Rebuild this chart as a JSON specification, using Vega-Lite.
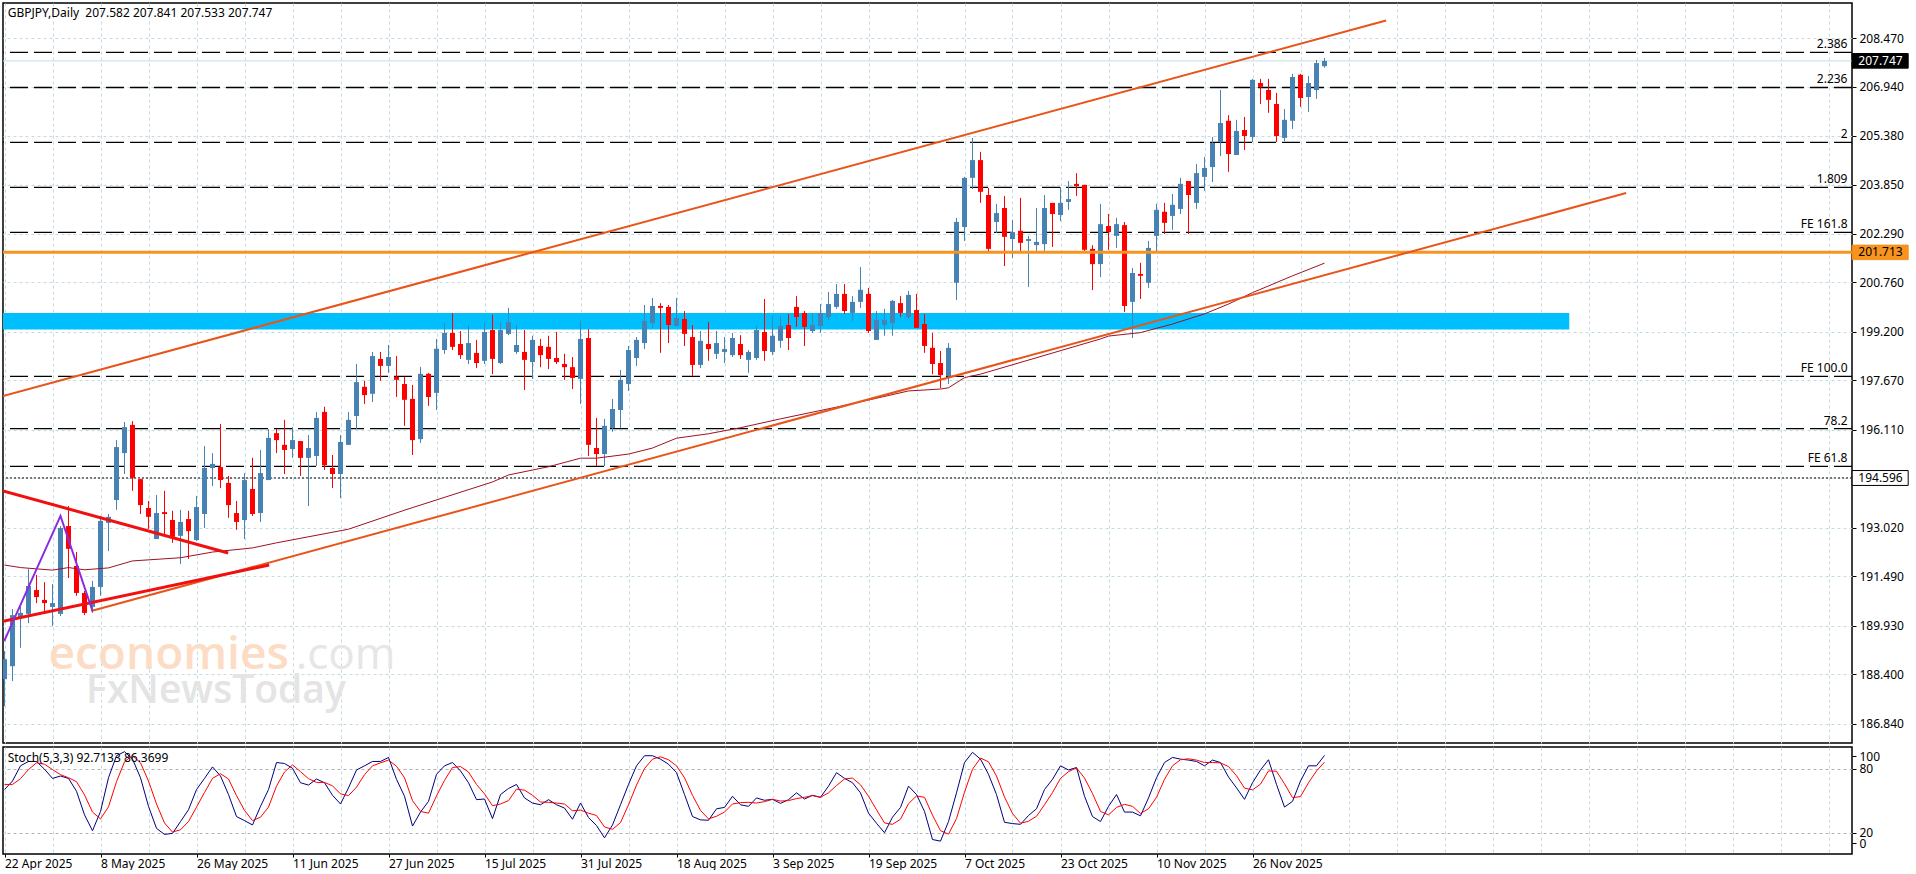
{
"$schema":"https://vega.github.io/schema/vega-lite/v6.json",
"background":"#FFFFFF",
"padding":{"left":1,"top":2,"right":0,"bottom":0},
"spacing":2,
"config":{"view":{"stroke":"#000000","strokeWidth":1.5},"text":{"font":"Noto Sans","fontSize":12,"color":"#000000"},"axis":{"labelFont":"Noto Sans","labelFontSize":12,"labelColor":"#000000","tickColor":"#000000","gridColor":"#C3DCE3","gridDash":[3,3],"domain":false,"title":null}},
"datasets":{
"candles":[
{"i":0,"o":188.25,"h":189.14,"l":187.40,"c":188.88},{"i":1,"o":188.66,"h":190.46,"l":188.19,"c":190.27},{"i":2,"o":190.21,"h":190.53,"l":189.24,"c":190.34},{"i":3,"o":190.31,"h":191.72,"l":190.02,"c":191.19},{"i":4,"o":191.06,"h":191.54,"l":190.65,"c":190.84},{"i":5,"o":190.75,"h":191.31,"l":190.40,"c":190.65},{"i":6,"o":190.53,"h":191.25,"l":189.93,"c":190.65},{"i":7,"o":190.31,"h":193.08,"l":190.24,"c":193.02},{"i":8,"o":193.08,"h":193.71,"l":191.44,"c":192.36},{"i":9,"o":191.82,"h":192.26,"l":190.88,"c":190.97},
{"i":10,"o":190.97,"h":191.03,"l":190.27,"c":190.34},{"i":11,"o":190.53,"h":191.35,"l":190.34,"c":191.16},{"i":12,"o":191.16,"h":193.40,"l":190.88,"c":193.24},{"i":13,"o":193.18,"h":193.46,"l":192.29,"c":193.37},{"i":14,"o":193.90,"h":195.79,"l":193.59,"c":195.57},{"i":15,"o":195.38,"h":196.36,"l":194.72,"c":196.20},{"i":16,"o":196.27,"h":196.39,"l":194.19,"c":194.60},{"i":17,"o":194.56,"h":194.56,"l":193.46,"c":193.74},{"i":18,"o":193.65,"h":193.87,"l":192.99,"c":193.37},{"i":19,"o":192.67,"h":194.06,"l":192.67,"c":193.49},
{"i":20,"o":193.52,"h":194.19,"l":192.83,"c":193.46},{"i":21,"o":193.27,"h":193.56,"l":192.55,"c":192.74},{"i":22,"o":192.77,"h":193.59,"l":191.88,"c":193.21},{"i":23,"o":193.30,"h":193.56,"l":192.04,"c":192.92},{"i":24,"o":192.64,"h":194.03,"l":192.61,"c":193.68},{"i":25,"o":193.46,"h":195.60,"l":193.02,"c":194.91},{"i":26,"o":194.91,"h":195.38,"l":194.34,"c":195.04},{"i":27,"o":194.94,"h":196.30,"l":194.28,"c":194.53},{"i":28,"o":194.44,"h":194.66,"l":193.34,"c":193.74},{"i":29,"o":193.49,"h":193.87,"l":192.96,"c":193.21},
{"i":30,"o":193.27,"h":194.75,"l":192.67,"c":194.53},{"i":31,"o":194.25,"h":195.23,"l":193.40,"c":193.46},{"i":32,"o":193.49,"h":195.48,"l":193.21,"c":194.75},{"i":33,"o":194.53,"h":196.14,"l":194.53,"c":195.86},{"i":34,"o":196.01,"h":196.14,"l":195.38,"c":195.79},{"i":35,"o":195.64,"h":196.43,"l":194.72,"c":195.48},{"i":36,"o":195.51,"h":196.20,"l":195.23,"c":195.79},{"i":37,"o":195.76,"h":195.76,"l":194.66,"c":195.23},{"i":38,"o":195.23,"h":195.95,"l":193.71,"c":195.54},{"i":39,"o":195.29,"h":196.68,"l":194.97,"c":196.49},
{"i":40,"o":196.68,"h":196.84,"l":194.85,"c":195.00},{"i":41,"o":194.91,"h":195.32,"l":194.28,"c":194.72},{"i":42,"o":194.72,"h":195.95,"l":193.96,"c":195.73},{"i":43,"o":195.64,"h":196.68,"l":195.64,"c":196.43},{"i":44,"o":196.55,"h":198.19,"l":196.14,"c":197.62},{"i":45,"o":197.47,"h":197.66,"l":196.93,"c":197.21},{"i":46,"o":197.25,"h":198.57,"l":196.99,"c":198.44},{"i":47,"o":198.35,"h":198.57,"l":197.66,"c":198.13},{"i":48,"o":198.13,"h":198.79,"l":197.91,"c":198.41},{"i":49,"o":197.78,"h":198.44,"l":197.15,"c":197.69},
{"i":50,"o":197.56,"h":197.78,"l":196.24,"c":197.06},{"i":51,"o":197.09,"h":197.53,"l":195.32,"c":195.79},{"i":52,"o":195.82,"h":198.10,"l":195.70,"c":197.88},{"i":53,"o":197.88,"h":197.91,"l":196.87,"c":197.15},{"i":54,"o":197.28,"h":198.98,"l":196.74,"c":198.67},{"i":55,"o":198.63,"h":199.48,"l":198.51,"c":199.17},{"i":56,"o":199.17,"h":199.80,"l":198.63,"c":198.73},{"i":57,"o":198.82,"h":199.23,"l":198.35,"c":198.47},{"i":58,"o":198.32,"h":199.42,"l":198.19,"c":198.85},{"i":59,"o":198.54,"h":198.95,"l":198.06,"c":198.22},
{"i":60,"o":198.29,"h":199.51,"l":198.19,"c":199.20},{"i":61,"o":199.26,"h":199.74,"l":197.87,"c":198.35},{"i":62,"o":198.22,"h":199.51,"l":198.19,"c":199.26},{"i":63,"o":199.14,"h":199.96,"l":199.10,"c":199.51},{"i":64,"o":198.57,"h":199.42,"l":198.51,"c":198.79},{"i":65,"o":198.57,"h":199.26,"l":197.37,"c":198.32},{"i":66,"o":198.25,"h":199.08,"l":197.72,"c":198.95},{"i":67,"o":198.76,"h":198.98,"l":198.09,"c":198.47},{"i":68,"o":198.73,"h":199.08,"l":198.03,"c":198.35},{"i":69,"o":198.38,"h":199.20,"l":198.19,"c":198.25},
{"i":70,"o":198.19,"h":198.51,"l":197.69,"c":198.09},{"i":71,"o":198.09,"h":198.41,"l":197.40,"c":197.75},{"i":72,"o":197.72,"h":199.55,"l":196.93,"c":198.98},{"i":73,"o":199.01,"h":199.29,"l":195.29,"c":195.64},{"i":74,"o":195.54,"h":196.49,"l":194.97,"c":195.35},{"i":75,"o":195.35,"h":196.46,"l":194.97,"c":196.24},{"i":76,"o":196.17,"h":197.09,"l":196.05,"c":196.77},{"i":77,"o":196.74,"h":198.00,"l":196.17,"c":197.69},{"i":78,"o":197.56,"h":198.76,"l":197.34,"c":198.63},{"i":79,"o":198.38,"h":199.04,"l":198.13,"c":198.95},
{"i":80,"o":198.85,"h":200.05,"l":198.66,"c":199.55},{"i":81,"o":199.48,"h":200.27,"l":199.33,"c":200.02},{"i":82,"o":200.02,"h":200.11,"l":198.54,"c":199.96},{"i":83,"o":199.99,"h":200.05,"l":198.85,"c":199.42},{"i":84,"o":199.39,"h":200.27,"l":199.39,"c":199.64},{"i":85,"o":199.61,"h":199.86,"l":198.76,"c":199.14},{"i":86,"o":199.04,"h":199.42,"l":197.81,"c":198.16},{"i":87,"o":198.16,"h":199.23,"l":198.06,"c":198.92},{"i":88,"o":198.82,"h":199.51,"l":198.29,"c":198.66},{"i":89,"o":198.51,"h":199.23,"l":198.35,"c":198.85},
{"i":90,"o":198.57,"h":199.04,"l":198.22,"c":198.66},{"i":91,"o":198.47,"h":199.17,"l":198.41,"c":199.01},{"i":92,"o":198.82,"h":199.10,"l":198.35,"c":198.47},{"i":93,"o":198.32,"h":198.63,"l":197.91,"c":198.57},{"i":94,"o":198.38,"h":199.39,"l":198.32,"c":199.26},{"i":95,"o":199.20,"h":200.24,"l":198.29,"c":198.60},{"i":96,"o":198.57,"h":199.71,"l":198.47,"c":199.08},{"i":97,"o":198.92,"h":199.71,"l":198.70,"c":199.39},{"i":98,"o":199.42,"h":199.77,"l":198.63,"c":199.01},{"i":99,"o":199.99,"h":200.33,"l":199.36,"c":199.67},
{"i":100,"o":199.80,"h":199.86,"l":198.76,"c":199.36},{"i":101,"o":199.23,"h":199.80,"l":199.17,"c":199.42},{"i":102,"o":199.39,"h":200.08,"l":199.17,"c":199.80},{"i":103,"o":199.67,"h":200.46,"l":199.58,"c":200.08},{"i":104,"o":199.99,"h":200.71,"l":199.93,"c":200.40},{"i":105,"o":200.40,"h":200.71,"l":199.77,"c":199.86},{"i":106,"o":199.80,"h":200.33,"l":199.55,"c":200.15},{"i":107,"o":200.15,"h":201.25,"l":199.96,"c":200.53},{"i":108,"o":200.40,"h":200.59,"l":199.17,"c":199.23},{"i":109,"o":198.95,"h":199.86,"l":198.95,"c":199.58},
{"i":110,"o":199.42,"h":199.93,"l":199.08,"c":199.58},{"i":111,"o":199.48,"h":200.21,"l":199.08,"c":200.18},{"i":112,"o":200.11,"h":200.33,"l":199.67,"c":199.80},{"i":113,"o":199.67,"h":200.49,"l":199.61,"c":200.37},{"i":114,"o":199.89,"h":200.40,"l":199.33,"c":199.33},{"i":115,"o":199.45,"h":199.77,"l":198.54,"c":198.76},{"i":116,"o":198.70,"h":199.17,"l":197.87,"c":198.19},{"i":117,"o":198.22,"h":198.60,"l":197.43,"c":197.84},{"i":118,"o":197.81,"h":198.85,"l":197.56,"c":198.70},{"i":119,"o":200.75,"h":202.80,"l":200.21,"c":202.67},
{"i":120,"o":202.51,"h":204.09,"l":202.07,"c":204.06},{"i":121,"o":204.06,"h":205.32,"l":203.71,"c":204.62},{"i":122,"o":204.62,"h":204.88,"l":203.27,"c":203.62},{"i":123,"o":203.52,"h":203.74,"l":201.69,"c":201.82},{"i":124,"o":202.67,"h":203.24,"l":202.32,"c":202.95},{"i":125,"o":203.11,"h":203.49,"l":201.28,"c":202.20},{"i":126,"o":202.13,"h":202.73,"l":201.53,"c":202.35},{"i":127,"o":202.39,"h":203.43,"l":201.69,"c":202.01},{"i":128,"o":202.07,"h":202.23,"l":200.62,"c":202.13},{"i":129,"o":201.94,"h":203.11,"l":201.69,"c":202.04},
{"i":130,"o":201.97,"h":203.52,"l":201.76,"c":203.11},{"i":131,"o":203.27,"h":203.27,"l":201.88,"c":202.92},{"i":132,"o":202.89,"h":203.77,"l":202.70,"c":203.27},{"i":133,"o":203.30,"h":203.96,"l":203.05,"c":203.39},{"i":134,"o":203.87,"h":204.21,"l":203.49,"c":203.80},{"i":135,"o":203.84,"h":203.84,"l":201.69,"c":201.79},{"i":136,"o":201.82,"h":201.94,"l":200.52,"c":201.34},{"i":137,"o":201.34,"h":203.24,"l":200.93,"c":202.60},{"i":138,"o":202.54,"h":202.92,"l":201.79,"c":202.35},{"i":139,"o":202.23,"h":202.80,"l":201.85,"c":202.60},
{"i":140,"o":202.57,"h":202.67,"l":199.83,"c":200.02},{"i":141,"o":200.15,"h":201.22,"l":199.01,"c":201.06},{"i":142,"o":201.03,"h":201.38,"l":200.24,"c":200.97},{"i":143,"o":200.75,"h":202.07,"l":200.59,"c":201.85},{"i":144,"o":202.23,"h":203.24,"l":201.69,"c":203.05},{"i":145,"o":202.99,"h":203.27,"l":202.29,"c":202.64},{"i":146,"o":202.86,"h":203.55,"l":202.42,"c":203.21},{"i":147,"o":203.08,"h":204.06,"l":202.92,"c":203.87},{"i":148,"o":203.96,"h":203.96,"l":202.29,"c":203.52},{"i":149,"o":203.27,"h":204.50,"l":203.08,"c":204.21},
{"i":150,"o":204.09,"h":204.72,"l":203.65,"c":204.37},{"i":151,"o":204.40,"h":205.35,"l":203.93,"c":205.16},{"i":152,"o":205.19,"h":206.83,"l":204.75,"c":205.79},{"i":153,"o":205.86,"h":206.04,"l":204.25,"c":204.81},{"i":154,"o":204.78,"h":205.89,"l":204.78,"c":205.54},{"i":155,"o":205.57,"h":205.98,"l":204.94,"c":205.38},{"i":156,"o":205.35,"h":207.18,"l":205.19,"c":207.15},{"i":157,"o":207.05,"h":207.18,"l":206.39,"c":206.93},{"i":158,"o":206.83,"h":207.18,"l":206.11,"c":206.52},{"i":159,"o":206.39,"h":206.74,"l":205.19,"c":205.38},
{"i":160,"o":205.32,"h":206.23,"l":205.22,"c":205.89},{"i":161,"o":205.86,"h":207.34,"l":205.60,"c":207.24},{"i":162,"o":207.31,"h":207.34,"l":206.30,"c":206.58},{"i":163,"o":206.61,"h":207.27,"l":206.14,"c":207.05},{"i":164,"o":206.83,"h":207.78,"l":206.55,"c":207.68},{"i":165,"o":207.582,"h":207.841,"l":207.533,"c":207.747}
],
"ma":[
{"i":0,"p":191.85},{"i":2,"p":191.77},{"i":6,"p":191.69},{"i":8,"p":191.77},{"i":10,"p":191.70},{"i":13,"p":191.76},{"i":16,"p":191.98},{"i":22,"p":192.08},{"i":26,"p":192.26},{"i":31,"p":192.39},{"i":34,"p":192.55},{"i":43,"p":192.98},{"i":50,"p":193.58},{"i":61,"p":194.47},{"i":63,"p":194.69},{"i":68,"p":194.95},{"i":72,"p":195.22},{"i":74,"p":195.22},{"i":78,"p":195.35},{"i":81,"p":195.54},{"i":84,"p":195.85},{"i":88,"p":195.99},{"i":92,"p":196.18},{"i":97,"p":196.46},{"i":104,"p":196.83},{"i":109,"p":197.11},{"i":113,"p":197.34},{"i":117,"p":197.40},{"i":118,"p":197.44},{"i":120,"p":197.76},{"i":122,"p":197.87},{"i":137,"p":198.98},{"i":138,"p":199.07},{"i":142,"p":199.18},{"i":146,"p":199.45},{"i":150,"p":199.77},{"i":153,"p":200.08},{"i":156,"p":200.44},{"i":161,"p":200.97},{"i":165,"p":201.37}
],
"channel":[{"side":"upper","i":-0.1875,"p":197.18},{"side":"upper","i":172.7,"p":209.02},{"side":"lower","i":10.84,"p":190.40},{"side":"lower","i":202.7,"p":203.58}],
"triangle":[{"side":"upper","i":-0.1875,"p":194.19},{"side":"upper","i":27.96,"p":192.23},{"side":"lower","i":-0.1875,"p":190.08},{"side":"lower","i":33.09,"p":191.85}],
"zigzag":[{"i":-0.04,"p":189.45},{"i":7,"p":193.40},{"i":11,"p":190.40}],
"levels":[{"p":208.02,"label":"2.386"},{"p":206.91,"label":"2.236"},{"p":205.18,"label":"2"},{"p":203.76,"label":"1.809"},{"p":202.34,"label":"FE 161.8"},{"p":197.80,"label":"FE 100.0"},{"p":196.15,"label":"78.2"},{"p":194.96,"label":"FE 61.8"}],
"tags":[{"tag":"207.747","p":207.747,"hi":207.98,"lo":207.52},{"tag":"201.713","p":201.713,"hi":201.94,"lo":201.48},{"tag":"194.596","p":194.596,"hi":194.83,"lo":194.36}],
"stoch":[
{"i":0,"k":60.6,"d":65.4},{"i":1,"k":68.6,"d":65.4},{"i":2,"k":82.9,"d":70.8},{"i":3,"k":87.0,"d":79.4},{"i":4,"k":87.0,"d":85.7},{"i":5,"k":79.7,"d":84.4},{"i":6,"k":71.1,"d":79.4},{"i":7,"k":73.3,"d":74.6},{"i":8,"k":71.1,"d":71.7},{"i":9,"k":59.0,"d":68.0},{"i":10,"k":36.8,"d":55.6},{"i":11,"k":21.9,"d":39.4},{"i":12,"k":40.0,"d":33.0},{"i":13,"k":71.7,"d":44.4},{"i":14,"k":92.4,"d":68.0},{"i":15,"k":96.2,"d":86.7},{"i":16,"k":89.2,"d":92.7},{"i":17,"k":71.7,"d":85.7},{"i":18,"k":44.8,"d":68.6},{"i":19,"k":24.1,"d":47.0},{"i":20,"k":18.4,"d":29.2},{"i":21,"k":19.4,"d":20.6},{"i":22,"k":30.5,"d":22.8},{"i":23,"k":41.6,"d":30.5},{"i":24,"k":60.6,"d":44.1},{"i":25,"k":71.1,"d":57.8},{"i":26,"k":81.9,"d":71.1},{"i":27,"k":73.3,"d":75.5},{"i":28,"k":55.9,"d":70.5},{"i":29,"k":35.2,"d":54.9},{"i":30,"k":31.4,"d":41.0},{"i":31,"k":27.3,"d":31.4},{"i":32,"k":44.8,"d":34.6},{"i":33,"k":60.6,"d":44.1},{"i":34,"k":86.0,"d":63.8},{"i":35,"k":85.1,"d":77.1},{"i":36,"k":80.6,"d":83.8},{"i":37,"k":67.0,"d":77.4},{"i":38,"k":64.8,"d":70.8},{"i":39,"k":70.5,"d":67.3},{"i":40,"k":67.0,"d":67.3},{"i":41,"k":55.2,"d":64.1},{"i":42,"k":47.0,"d":56.5},{"i":43,"k":62.2,"d":54.9},{"i":44,"k":79.0,"d":62.8},{"i":45,"k":82.9,"d":74.6},{"i":46,"k":87.0,"d":82.9},{"i":47,"k":87.0,"d":85.7},{"i":48,"k":90.8,"d":88.3},{"i":49,"k":70.2,"d":82.5},{"i":50,"k":54.3,"d":71.7},{"i":51,"k":26.3,"d":50.2},{"i":52,"k":39.4,"d":40.0},{"i":53,"k":49.5,"d":38.4},{"i":54,"k":74.9,"d":54.6},{"i":55,"k":82.9,"d":69.2},{"i":56,"k":86.0,"d":81.3},{"i":57,"k":78.1,"d":82.2},{"i":58,"k":67.0,"d":77.1},{"i":59,"k":51.1,"d":65.4},{"i":60,"k":51.7,"d":56.5},{"i":61,"k":33.3,"d":45.4},{"i":62,"k":55.9,"d":47.0},{"i":63,"k":61.6,"d":50.2},{"i":64,"k":65.4,"d":61.0},{"i":65,"k":52.7,"d":60.0},{"i":66,"k":47.9,"d":55.2},{"i":67,"k":46.3,"d":48.9},{"i":68,"k":51.1,"d":48.6},{"i":69,"k":46.3,"d":47.9},{"i":70,"k":43.2,"d":47.0},{"i":71,"k":32.7,"d":40.6},{"i":72,"k":47.9,"d":41.3},{"i":73,"k":34.3,"d":38.4},{"i":74,"k":26.7,"d":36.2},{"i":75,"k":15.2,"d":25.4},{"i":76,"k":27.3,"d":23.2},{"i":77,"k":46.3,"d":29.5},{"i":78,"k":65.4,"d":46.3},{"i":79,"k":82.9,"d":64.8},{"i":80,"k":92.4,"d":80.3},{"i":81,"k":92.4,"d":89.2},{"i":82,"k":89.2,"d":91.4},
{"i":83,"k":84.4,"d":88.6},{"i":84,"k":76.5,"d":82.9},{"i":85,"k":55.9,"d":71.7},{"i":86,"k":35.2,"d":55.2},{"i":87,"k":32.1,"d":41.0},{"i":88,"k":31.7,"d":33.0},{"i":89,"k":42.5,"d":35.5},{"i":90,"k":43.8,"d":39.4},{"i":91,"k":54.3,"d":47.0},{"i":92,"k":46.3,"d":48.3},{"i":93,"k":44.8,"d":48.6},{"i":94,"k":52.7,"d":47.9},{"i":95,"k":50.5,"d":49.2},{"i":96,"k":51.4,"d":51.4},{"i":97,"k":47.6,"d":49.8},{"i":98,"k":51.1,"d":50.2},{"i":99,"k":57.5,"d":52.1},{"i":100,"k":51.7,"d":53.3},{"i":101,"k":55.2,"d":54.9},{"i":102,"k":53.3,"d":53.3},{"i":103,"k":63.8,"d":57.5},{"i":104,"k":76.5,"d":64.4},{"i":105,"k":71.1,"d":70.5},{"i":106,"k":67.0,"d":71.4},{"i":107,"k":57.5,"d":65.1},{"i":108,"k":38.4,"d":54.3},{"i":109,"k":28.9,"d":41.6},{"i":110,"k":20.0,"d":29.2},{"i":111,"k":34.6,"d":27.9},{"i":112,"k":43.8,"d":32.7},{"i":113,"k":63.8,"d":47.3},{"i":114,"k":55.9,"d":54.6},{"i":115,"k":40.0,"d":53.3},{"i":116,"k":13.6,"d":36.5},{"i":117,"k":12.1,"d":21.9},{"i":118,"k":30.5,"d":18.7},{"i":119,"k":57.5,"d":33.3},{"i":120,"k":86.0,"d":58.1},{"i":121,"k":95.6,"d":79.7},{"i":122,"k":89.2,"d":90.2},{"i":123,"k":74.9,"d":86.7},{"i":124,"k":55.9,"d":73.3},{"i":125,"k":29.8,"d":53.6},{"i":126,"k":28.6,"d":38.1},{"i":127,"k":27.9,"d":28.9},{"i":128,"k":36.2,"d":30.8},{"i":129,"k":42.5,"d":35.5},{"i":130,"k":60.6,"d":46.3},{"i":131,"k":70.2,"d":57.8},{"i":132,"k":82.9,"d":71.1},{"i":133,"k":79.0,"d":77.4},{"i":134,"k":81.3,"d":81.0},{"i":135,"k":54.3,"d":71.4},{"i":136,"k":35.2,"d":56.8},{"i":137,"k":30.5,"d":40.0},{"i":138,"k":44.8,"d":36.8},{"i":139,"k":55.9,"d":43.8},{"i":140,"k":39.4,"d":46.7},{"i":141,"k":39.4,"d":44.8},{"i":142,"k":35.9,"d":38.1},{"i":143,"k":52.7,"d":42.5},{"i":144,"k":71.7,"d":53.3},{"i":145,"k":86.0,"d":70.2},{"i":146,"k":90.8,"d":82.9},{"i":147,"k":89.2,"d":88.6},{"i":148,"k":88.3,"d":89.5},{"i":149,"k":87.0,"d":88.3},{"i":150,"k":82.9,"d":86.0},{"i":151,"k":88.3,"d":86.0},{"i":152,"k":86.0,"d":85.7},{"i":153,"k":72.4,"d":82.2},{"i":154,"k":62.2,"d":73.6},{"i":155,"k":51.4,"d":61.9},{"i":156,"k":67.0,"d":60.3},{"i":157,"k":79.0,"d":65.7},{"i":158,"k":88.6,"d":78.1},{"i":159,"k":65.4,"d":77.8},{"i":160,"k":44.1,"d":66.0},{"i":161,"k":49.5,"d":53.0},{"i":162,"k":68.6,"d":54.0},{"i":163,"k":82.9,"d":67.0},{"i":164,"k":82.9,"d":78.1},{"i":165,"k":92.7133,"d":86.3699}
]
},
"vconcat":[
{"width":1849,"height":740,"resolve":{"axis":{"x":"independent","y":"independent"}},"layer":[
{"mark":{"type":"rule","strokeOpacity":0},"data":{"name":"levels"},"encoding":{
 "x":{"datum":0,"type":"quantitative","scale":{"domain":[-0.1875,230.9375],"nice":false,"zero":false,"padding":0},"axis":{"values":[0,6,12,18,24,30,36,42,48,54,60,66,72,78,84,90,96,102,108,114,120,126,132,138,144,150,156,162,168,174,180,186,192,198,204,210,216,222,228],"grid":true,"labels":false,"ticks":false}},
 "y":{"field":"p","type":"quantitative","scale":{"domain":[186.238,209.574],"nice":false,"zero":false},"axis":{"orient":"right","values":[208.47,206.94,205.38,203.85,202.29,200.76,199.2,197.67,196.11,194.58,193.02,191.49,189.93,188.4,186.84],"format":".3f","grid":true,"tickSize":4,"labelPadding":3,"labelExpr":"datum.value==194.58?'':datum.label"}}}},
{"data":{"values":[{"i":5.5,"p":188.57,"t":"economies"}]},"mark":{"type":"text","align":"left","baseline":"alphabetic","font":"Open Sans","fontSize":46,"fontWeight":600,"color":"#FCDCC4"},"encoding":{"x":{"field":"i","type":"quantitative","axis":null},"y":{"field":"p","type":"quantitative","axis":null},"text":{"field":"t"}}},
{"data":{"values":[{"i":36.4,"p":188.57,"t":".com"}]},"mark":{"type":"text","align":"left","baseline":"alphabetic","font":"Open Sans","fontSize":44,"color":"#E6E6E6"},"encoding":{"x":{"field":"i","type":"quantitative","axis":null},"y":{"field":"p","type":"quantitative","axis":null},"text":{"field":"t"}}},
{"data":{"values":[{"i":10.2,"p":187.5,"t":"FxNewsToday"}]},"mark":{"type":"text","align":"left","baseline":"alphabetic","font":"Open Sans","fontSize":39,"fontWeight":600,"color":"#E4E4E4"},"encoding":{"x":{"field":"i","type":"quantitative","axis":null},"y":{"field":"p","type":"quantitative","axis":null},"text":{"field":"t"}}},
{"data":{"values":[{"i":-0.1875,"i2":195.6,"p":199.80,"p2":199.28}]},"mark":{"type":"rect","color":"#00BFFF","clip":true},"encoding":{"x":{"field":"i","type":"quantitative","axis":null},"x2":{"field":"i2"},"y":{"field":"p","type":"quantitative","axis":null},"y2":{"field":"p2"}}},
{"data":{"name":"levels"},"mark":{"type":"rule","color":"#000000","strokeWidth":1.3,"strokeDash":[18,6],"clip":true},"encoding":{"y":{"field":"p","type":"quantitative","axis":null}}},
{"data":{"name":"levels"},"mark":{"type":"text","align":"right","baseline":"bottom","dx":-1,"dy":-1},"encoding":{"x":{"datum":230.5,"type":"quantitative","axis":null},"y":{"field":"p","type":"quantitative","axis":null},"text":{"field":"label"}}},
{"data":{"values":[{"p":207.747}]},"mark":{"type":"rule","color":"#C3DCE3","strokeWidth":1,"clip":true},"encoding":{"y":{"field":"p","type":"quantitative","axis":null}}},
{"data":{"values":[{"p":194.596}]},"mark":{"type":"rule","color":"#000000","strokeWidth":1,"strokeDash":[2,2],"clip":true},"encoding":{"y":{"field":"p","type":"quantitative","axis":null}}},
{"data":{"name":"candles"},"mark":{"type":"rule","strokeWidth":1,"clip":true},"encoding":{"x":{"field":"i","type":"quantitative","axis":null},"y":{"field":"h","type":"quantitative","axis":null},"y2":{"field":"l"},"color":{"condition":{"test":"datum.c>=datum.o","value":"#4682B4"},"value":"#FF0000"}}},
{"data":{"name":"candles"},"mark":{"type":"bar","size":5,"clip":true},"encoding":{"x":{"field":"i","type":"quantitative","axis":null},"y":{"field":"o","type":"quantitative","axis":null},"y2":{"field":"c"},"color":{"condition":{"test":"datum.c>=datum.o","value":"#4682B4"},"value":"#FF0000"}}},
{"data":{"name":"ma"},"mark":{"type":"line","color":"#A01020","strokeWidth":1,"clip":true},"encoding":{"x":{"field":"i","type":"quantitative","axis":null},"y":{"field":"p","type":"quantitative","axis":null}}},
{"data":{"values":[{"p":201.713}]},"mark":{"type":"rule","color":"#F7931E","strokeWidth":3,"clip":true},"encoding":{"y":{"field":"p","type":"quantitative","axis":null}}},
{"data":{"name":"channel"},"mark":{"type":"line","color":"#E8541A","strokeWidth":2,"clip":true},"encoding":{"x":{"field":"i","type":"quantitative","axis":null},"y":{"field":"p","type":"quantitative","axis":null},"detail":{"field":"side"}}},
{"data":{"name":"triangle"},"mark":{"type":"line","color":"#F01010","strokeWidth":3,"clip":true},"encoding":{"x":{"field":"i","type":"quantitative","axis":null},"y":{"field":"p","type":"quantitative","axis":null},"detail":{"field":"side"}}},
{"data":{"name":"zigzag"},"mark":{"type":"line","color":"#8A2BE2","strokeWidth":2,"clip":true},"encoding":{"x":{"field":"i","type":"quantitative","axis":null},"y":{"field":"p","type":"quantitative","axis":null}}},
{"data":{"values":[{"i":0.4,"p":209.26,"t":"GBPJPY,Daily\u00a0\u00a0207.582 207.841 207.533 207.747"}]},"mark":{"type":"text","align":"left","baseline":"middle"},"encoding":{"x":{"field":"i","type":"quantitative","axis":null},"y":{"field":"p","type":"quantitative","axis":null},"text":{"field":"t"}}},
{"data":{"name":"tags"},"mark":{"type":"rect","strokeWidth":1},"encoding":{"x":{"datum":230.96,"type":"quantitative","axis":null},"x2":{"datum":237.96},"y":{"field":"hi","type":"quantitative","axis":null},"y2":{"field":"lo"},"fill":{"field":"tag","scale":{"domain":["207.747","201.713","194.596"],"range":["#000000","#F7931E","#FFFFFF"]},"legend":null},"stroke":{"condition":{"test":"datum.tag=='201.713'","value":"#F7931E"},"value":"#000000"}}},
{"data":{"name":"tags"},"mark":{"type":"text","align":"center","baseline":"middle"},"encoding":{"x":{"datum":234.5,"type":"quantitative","axis":null},"y":{"field":"p","type":"quantitative","axis":null},"text":{"field":"tag"},"color":{"field":"tag","scale":{"domain":["207.747","201.713","194.596"],"range":["#FFFFFF","#000000","#000000"]},"legend":null}}}
]},
{"width":1849,"height":107,"resolve":{"axis":{"x":"independent","y":"independent"}},"layer":[
{"data":{"name":"stoch"},"mark":{"type":"line","color":"#000080","strokeWidth":1},"encoding":{
 "x":{"field":"i","type":"quantitative","scale":{"domain":[-0.1875,230.9375],"nice":false,"zero":false,"padding":0},"axis":{"values":[0,6,12,18,24,30,36,42,48,54,60,66,72,78,84,90,96,102,108,114,120,126,132,138,144,150,156,162,168,174,180,186,192,198,204,210,216,222,228],"grid":true,"tickSize":3,"tickOpacity":{"condition":{"test":"datum.value%12==0&&datum.value<=156","value":1},"value":0},"labelAlign":"left","labelBaseline":"middle","labelPadding":6,"labelOverlap":false,"labelBound":false,"labelFlush":false,"labelExpr":"datum.value%12==0&&datum.value<=156?['22 Apr 2025','8 May 2025','26 May 2025','11 Jun 2025','27 Jun 2025','15 Jul 2025','31 Jul 2025','18 Aug 2025','3 Sep 2025','19 Sep 2025','7 Oct 2025','23 Oct 2025','10 Nov 2025','26 Nov 2025'][datum.value/12]:''"}},
 "y":{"field":"k","type":"quantitative","scale":{"domain":[0,100.6],"nice":false,"zero":false},"axis":{"orient":"right","values":[92,80,20,10],"grid":true,"gridColor":"#B4B4B4","gridOpacity":{"condition":{"test":"datum.value==80||datum.value==20","value":1},"value":0},"tickSize":4,"labelPadding":3,"labelOverlap":false,"labelBound":false,"labelExpr":"datum.value==92?'100':datum.value==10?'0':datum.label"}}}},
{"data":{"name":"stoch"},"mark":{"type":"line","color":"#FF0000","strokeWidth":1},"encoding":{"x":{"field":"i","type":"quantitative","axis":null},"y":{"field":"d","type":"quantitative","axis":null}}},
{"data":{"values":[{"i":0.4,"v":90.2,"t":"Stoch(5,3,3) 92.7133 86.3699"}]},"mark":{"type":"text","align":"left","baseline":"middle"},"encoding":{"x":{"field":"i","type":"quantitative","axis":null},"y":{"field":"v","type":"quantitative","axis":null},"text":{"field":"t"}}}
]}
]
}
